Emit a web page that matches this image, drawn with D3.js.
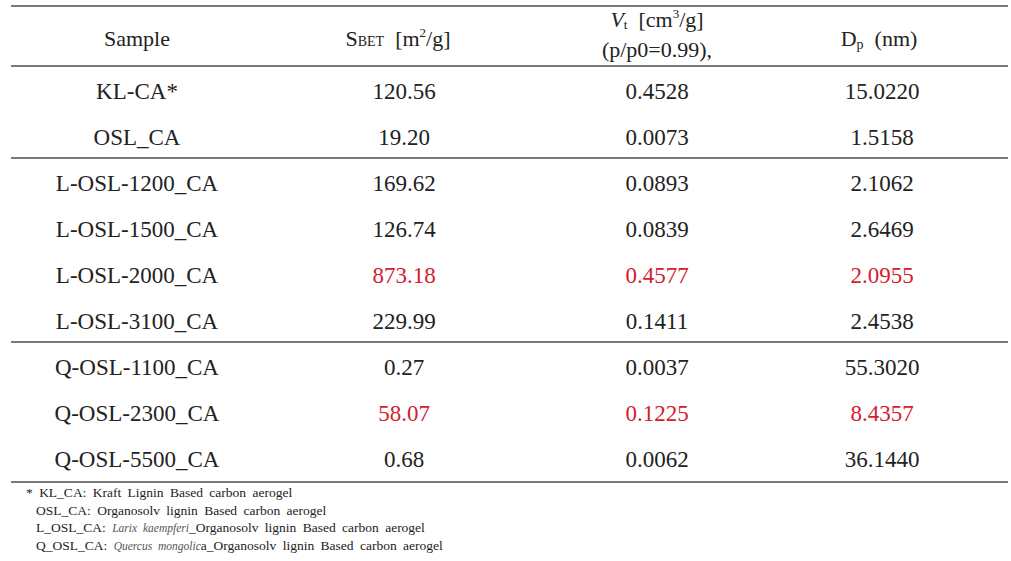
<!DOCTYPE html>
<html>
<head>
<meta charset="utf-8">
<script src="https://cdn.jsdelivr.net/npm/d3@7"></script>
<style>
  body { margin: 0; background: #fff; }
  text { font-family: "Liberation Serif", "DejaVu Serif", serif; fill: #222; }
</style>
</head>
<body>
<svg width="1011" height="561"></svg>
<script>
// table values
const samples = ["KL-CA*", "OSL_CA", "L-OSL-1200_CA", "L-OSL-1500_CA", "L-OSL-2000_CA",
                 "L-OSL-3100_CA", "Q-OSL-1100_CA", "Q-OSL-2300_CA", "Q-OSL-5500_CA"];
const sbet = ["120.56", "19.20", "169.62", "126.74", "873.18", "229.99", "0.27", "58.07", "0.68"];
const vt = ["0.4528", "0.0073", "0.0893", "0.0839", "0.4577", "0.1411", "0.0037", "0.1225", "0.0062"];
const dp = ["15.0220", "1.5158", "2.1062", "2.6469", "2.0955", "2.4538", "55.3020", "8.4357", "36.1440"];
const highlighted = ["L-OSL-2000_CA", "Q-OSL-2300_CA"];
const groupEnds = [1, 5]; // rule below these row indexes
const columns = ["sample", "sbet", "vt", "dp"];

const svg = d3.select("svg");
const left = 11, right = 1008;

// scales
const x = d3.scaleOrdinal().domain(columns).range([137, 404, 657, 882]);
const y = d3.scaleLinear().domain([0, samples.length - 1]).range([99, 467]);

const rule = yy => svg.append("line")
  .attr("x1", left).attr("x2", right)
  .attr("y1", yy).attr("y2", yy)
  .attr("stroke", "#7a7a7a").attr("stroke-width", 2);

// rules
rule(6);
rule(66);
groupEnds.forEach(i => rule((y(i) + y(i + 1)) / 2 - 10));
rule(482);

// header
const head = svg.append("g").attr("font-size", 22).attr("text-anchor", "middle");
head.append("text").attr("x", x("sample")).attr("y", 46).text("Sample");

const hS = head.append("text").attr("x", x("sbet") - 6).attr("y", 46);
hS.append("tspan").text("S");
hS.append("tspan").attr("font-size", 14).text("BET");
hS.append("tspan").text("\u00a0 [m");
hS.append("tspan").attr("font-size", 13).attr("dy", -9).text("2");
hS.append("tspan").attr("dy", 9).text("/g]");

const hV = head.append("text").attr("x", x("vt")).attr("y", 27);
hV.append("tspan").attr("font-style", "italic").text("V");
hV.append("tspan").attr("font-size", 13).attr("dy", 2).text("t");
hV.append("tspan").attr("dy", -2).text("\u00a0 [cm");
hV.append("tspan").attr("font-size", 13).attr("dy", -9).text("3");
hV.append("tspan").attr("dy", 9).text("/g]");
head.append("text").attr("x", x("vt")).attr("y", 57).text("(p/p0=0.99),");

const hD = head.append("text").attr("x", x("dp") - 3).attr("y", 46);
hD.append("tspan").text("D");
hD.append("tspan").attr("font-size", 14).attr("dy", 3).text("p");
hD.append("tspan").attr("dy", -3).text("\u00a0 (nm)");

// body rows
const rows = samples.map((s, i) => ({ sample: s, sbet: sbet[i], vt: vt[i], dp: dp[i], i }));
const row = svg.append("g").attr("font-size", 23).attr("text-anchor", "middle")
  .selectAll("g").data(rows).join("g")
  .attr("transform", d => `translate(0,${y(d.i)})`);

row.selectAll("text")
  .data(d => columns.map(c => ({ c, v: d[c], hi: c !== "sample" && highlighted.includes(d.sample) })))
  .join("text")
  .attr("x", d => x(d.c))
  .style("fill", d => d.hi ? "#d4202c" : "#222")
  .text(d => d.v);

// footnotes
const notes = [
  [["* KL_CA: Kraft Lignin Based carbon aerogel"]],
  [["OSL_CA: Organosolv lignin Based carbon aerogel"]],
  [["L_OSL_CA: "], ["Larix kaempferi", true], ["_Organosolv lignin Based carbon aerogel"]],
  [["Q_OSL_CA: "], ["Quercus mongolic", true], ["a_Organosolv lignin Based carbon aerogel"]]
];
const foot = svg.append("g").attr("font-size", 13.5).attr("word-spacing", 3);
notes.forEach((parts, i) => {
  const t = foot.append("text").attr("x", i === 0 ? 26 : 36).attr("y", 497 + i * 17.7);
  parts.forEach(([s, it]) => {
    const sp = t.append("tspan").text(s);
    if (it) sp.attr("font-style", "italic").attr("font-size", 11.5).style("fill", "#555");
  });
});
</script>
</body>
</html>
